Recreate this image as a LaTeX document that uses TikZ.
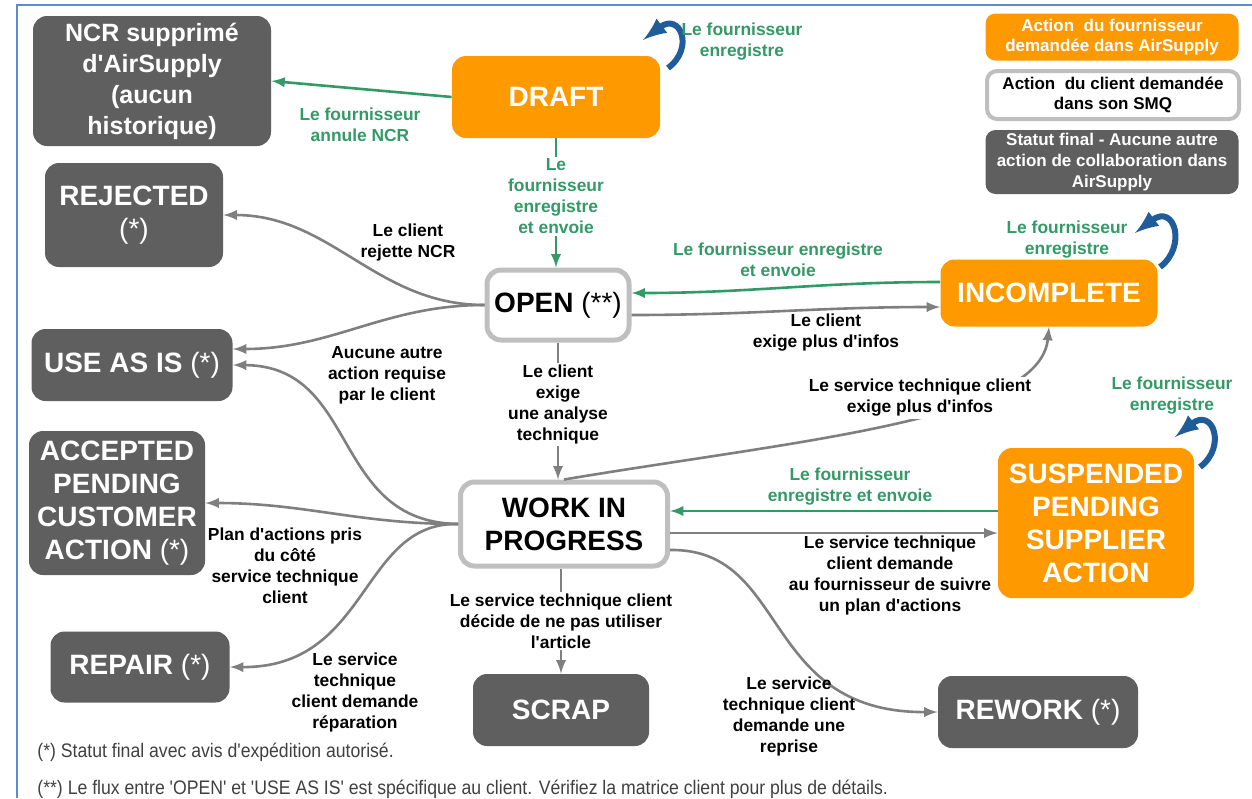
\documentclass[tikz,border=0pt]{standalone}
\usepackage{fontspec}
\setmainfont{Liberation Sans}
\newfontfamily\arialfont{Liberation Sans}
\newfontfamily\narrowfont[FakeStretch=0.9]{Liberation Sans}
\usetikzlibrary{arrows}
\definecolor{finalgray}{HTML}{5F5F5F}
\definecolor{airorange}{HTML}{FF9900}
\definecolor{bordergray}{HTML}{BFBFBF}
\definecolor{linegray}{HTML}{7F7F7F}
\definecolor{suppliergreen}{HTML}{339966}
\definecolor{loopblue}{HTML}{1F5C99}
\definecolor{frameblue}{HTML}{5B8BD0}
\definecolor{notegray}{HTML}{404040}
\newcommand{\boxfont}{\arialfont\bfseries\fontsize{14}{16.5}\selectfont}
\newcommand{\ncrfont}{\arialfont\bfseries\fontsize{12.5}{15.5}\selectfont}
\newcommand{\legendfont}{\arialfont\bfseries\fontsize{8.5}{10.3}\selectfont}
\newcommand{\edgefont}{\arialfont\bfseries\fontsize{8.7}{10.5}\selectfont}
\newcommand{\notefont}{\narrowfont\fontsize{9.8}{11}\selectfont}
\tikzset{
  statebox/.style={rounded corners=7pt, align=center, inner sep=0pt, text=white, font=\boxfont},
  finalstate/.style={statebox, fill=finalgray},
  supplierstate/.style={statebox, fill=airorange},
  clientstate/.style={statebox, fill=white, draw=bordergray, line width=2.5pt, text=black},
  edgelabel/.style={align=center, font=\edgefont, inner sep=1pt},
  supplierlabel/.style={edgelabel, text=suppliergreen},
  cutlabel/.style={fill=white},
  clientedge/.style={draw=linegray, line width=1.3pt, -latex},
  supplieredge/.style={draw=suppliergreen, line width=1.3pt, -latex},
  selfloop/.style={draw=loopblue, line width=3pt, -latex},
  frameline/.style={draw=frameblue, line width=1pt},
  notetext/.style={anchor=west, inner sep=0pt, text=notegray, font=\notefont}
}

\begin{document}
\begin{tikzpicture}[x=0.5pt,y=-0.5pt]
	\useasboundingbox (0,0) rectangle (1252,798);
	\draw[frameline] (17,798) -- (17,5) -- (1252,5);

	% states
	\node[finalstate, minimum width=119pt, minimum height=65pt, font=\ncrfont] (ncr) at (152,81) {NCR supprimé\\d'AirSupply\\(aucun\\historique)};
	\node[supplierstate, minimum width=104pt, minimum height=41pt] (draft) at (556,97) {DRAFT};
	\node[finalstate, minimum width=89pt, minimum height=52pt] (rejected) at (134,215) {REJECTED\\{\mdseries(*)}};
	\node[clientstate, minimum width=71pt, minimum height=35pt] (open) at (558,305) {OPEN {\mdseries(**)}};
	\node[supplierstate, minimum width=108.5pt, minimum height=33.5pt] (incomplete) at (1049,293) {INCOMPLETE};
	\node[finalstate, minimum width=100.5pt, minimum height=36pt] (useasis) at (132,365) {USE AS IS {\mdseries(*)}};
	\node[finalstate, minimum width=88pt, minimum height=72pt] (accepted) at (117,503) {ACCEPTED\\PENDING\\CUSTOMER\\ACTION {\mdseries(*)}};
	\node[clientstate, minimum width=103.5pt, minimum height=42pt] (wip) at (564,524) {WORK IN\\PROGRESS};
	\node[supplierstate, minimum width=98pt, minimum height=75pt] (suspended) at (1096,523) {SUSPENDED\\PENDING\\SUPPLIER\\ACTION};
	\node[finalstate, minimum width=89.5pt, minimum height=35.5pt] (repair) at (140,667) {REPAIR {\mdseries(*)}};
	\node[finalstate, minimum width=88pt, minimum height=36pt] (scrap) at (561,710) {SCRAP};
	\node[finalstate, minimum width=100pt, minimum height=36pt] (rework) at (1038,712) {REWORK {\mdseries(*)}};

	% legend
	\node[supplierstate, rounded corners=5pt, minimum width=126.5pt, minimum height=23.5pt, font=\legendfont] (legsupplier) at (1112,37) {Action\ \ du fournisseur\\demandée dans AirSupply};
	\node[clientstate, rounded corners=5pt, line width=2pt, minimum width=126pt, minimum height=24pt, font=\legendfont] (legclient) at (1113,95) {Action\ \ du client demandée\\dans son SMQ};
	\node[finalstate, rounded corners=5pt, minimum width=126.5pt, minimum height=32pt, font=\legendfont] (legfinal) at (1112,162) {Statut final - Aucune autre\\action de collaboration dans\\AirSupply};

	% supplier transitions
	\draw[supplieredge] (draft.west) -- (ncr.east);
	\draw[supplieredge] (draft.south) -- node[supplierlabel, cutlabel, pos=0.45] (lblsend) {Le\\fournisseur\\enregistre\\et envoie} (draft.south |- open.north);
	\draw[supplieredge] ([yshift=5.5pt]incomplete.west) to[out=180,in=0] ([yshift=6pt]open.east);
	\draw[supplieredge] ([yshift=6pt]suspended.west) -- ([yshift=6pt]suspended.west -| wip.east);

	% client transitions
	\draw[clientedge] ([yshift=-5pt]open.east) to[out=0,in=180] ([yshift=-7pt]incomplete.west);
	\draw[clientedge] (open.west) to[out=180,in=0] (rejected.east);
	\draw[clientedge] (open.west) to[out=180,in=0] ([yshift=8pt]useasis.east);
	\draw[clientedge] (open.south) -- node[edgelabel, cutlabel, pos=0.45] (lblanalyse) {Le client\\exige\\une analyse\\technique} (open.south |- wip.north);
	\draw[clientedge] (wip.west) .. controls (330,522) and (360,366) .. (useasis.east);
	\draw[clientedge] (wip.west) to[out=180,in=0] (accepted.east);
	\draw[clientedge] (wip.west) .. controls (360,522) and (370,668) .. (repair.east);
	\draw[clientedge] (wip.north) .. controls (800,440) and (1040,420) .. (incomplete.south);
	\draw[clientedge] ([yshift=-4.5pt]wip.east) -- ([yshift=-4.5pt]wip.east -| suspended.west);
	\draw[clientedge] (scrap.north |- wip.south) -- node[edgelabel, cutlabel] (lblscrap) {Le service technique client\\décide de ne pas utiliser\\l'article} (scrap.north);
	\draw[clientedge] ([yshift=-13pt]wip.east) .. controls (790,548) and (760,713) .. (rework.west);

	% supplier saves
	\coordinate (draftloopa) at (668,68);
	\coordinate (draftloopb) at (643,40);
	\draw[selfloop] (draftloopa) .. controls (695,48) and (680,12) .. (draftloopb);
	\coordinate (incloopa) at (1160,267);
	\coordinate (incloopb) at (1135,233);
	\draw[selfloop] (incloopa) .. controls (1187,247) and (1175,203) .. (incloopb);
	\coordinate (susploopa) at (1200,467);
	\coordinate (susploopb) at (1175,437);
	\draw[selfloop] (susploopa) .. controls (1227,447) and (1213,407) .. (susploopb);

	% labels
	\node[supplierlabel] (lblcancel) at (360,125) {Le fournisseur\\annule NCR};
	\node[supplierlabel] (lbldraftsave) at (742,42) {Le fournisseur\\enregistre};
	\node[supplierlabel] (lblincsend) at (778,260) {Le fournisseur enregistre\\et envoie};
	\node[supplierlabel] (lblincsave) at (1067,240) {Le fournisseur\\enregistre};
	\node[supplierlabel] (lblsuspsend) at (850,487) {Le fournisseur\\enregistre et envoie};
	\node[supplierlabel] (lblsuspsave) at (1172,396) {Le fournisseur\\enregistre};
	\node[edgelabel] (lblreject) at (408,242) {Le client\\rejette NCR};
	\node[edgelabel] (lblinfos) at (826,333) {Le client\\exige plus d'infos};
	\node[edgelabel] (lbluseasis) at (387,375) {Aucune autre\\action requise\\par le client};
	\node[edgelabel, cutlabel] (lbltechinfos) at (920,398) {Le service technique client\\exige plus d'infos};
	\node[edgelabel] (lblplan) at (890,575) {Le service technique\\client demande\\au fournisseur de suivre\\un plan d'actions};
	\node[edgelabel] (lblaccepted) at (285,566) {Plan d'actions pris\\du côté\\service technique\\client};
	\node[edgelabel] (lblrepair) at (355,692) {Le service\\technique\\client demande\\réparation};
	\node[edgelabel] (lblrework) at (789,716) {Le service\\technique client\\demande une\\reprise};

	% notes
	\node[notetext] (notefinal) at (37,752) {(*) Statut final avec avis d'expédition autorisé.};
	\node[notetext] (noteflux) at (37,789) {(**) Le flux entre 'OPEN' et 'USE AS IS' est spécifique au client. Vérifiez la matrice client pour plus de détails.};
\end{tikzpicture}
\end{document}
